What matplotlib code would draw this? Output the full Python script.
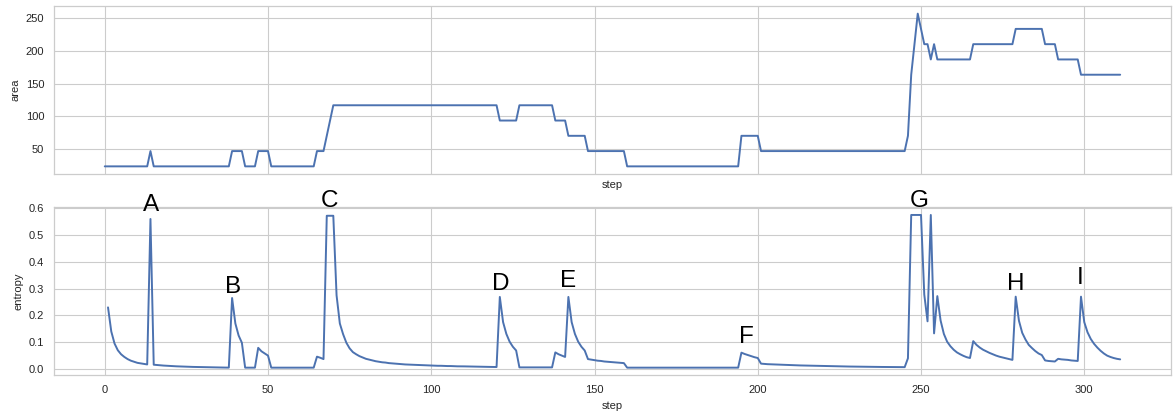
import numpy as np
import matplotlib
matplotlib.use("Agg")
import matplotlib.pyplot as plt
import seaborn as sns

# ---------------- data ----------------
# area: piecewise-constant runs starting at step 0
area_run_values = [23.4, 46.8, 23.4, 46.8, 23.4, 46.8, 23.4, 46.8, 70.2, 93.6,
                   117.0, 93.6, 117.0, 93.6, 70.2, 46.8, 23.4, 70.2, 46.8, 70.2,
                   163.8, 210.6, 257.4, 234.0, 210.6, 187.2, 210.6, 187.2, 210.6,
                   234.0, 210.6, 187.2, 163.8]
area_run_lengths = [14, 1, 24, 4, 4, 4, 14, 3, 1, 1,
                    51, 6, 11, 4, 6, 12, 35, 6, 45, 1,
                    1, 1, 1, 1, 2, 1, 1, 11, 13,
                    9, 4, 7, 13]

# entropy: consecutive segments, each starting at the given step
entropy_seg_starts = [1, 14, 15, 39, 43, 47, 51, 65, 68, 71, 121, 127, 138, 142,
                      148, 160, 195, 201, 246, 247, 251, 256, 266, 279, 288, 292, 299]
entropy_segments = [
    [0.23, 0.14, 0.095, 0.07, 0.055, 0.045, 0.037, 0.031, 0.027, 0.023, 0.021, 0.019, 0.017],
    [0.56],
    [0.016, 0.0148, 0.0138, 0.0128, 0.012, 0.0113, 0.0106, 0.01, 0.0095, 0.009, 0.0086, 0.0082,
     0.0078, 0.0075, 0.0072, 0.0069, 0.0066, 0.0063, 0.0061, 0.0059, 0.0057, 0.0055, 0.0053, 0.0051],
    [0.265, 0.17, 0.125, 0.098],
    [0.005, 0.005, 0.005, 0.005],
    [0.079, 0.066, 0.058, 0.05],
    [0.005, 0.005, 0.005, 0.005, 0.005, 0.005, 0.005, 0.005, 0.005, 0.005, 0.005, 0.005, 0.005, 0.005],
    [0.046, 0.042, 0.037],
    [0.572, 0.572, 0.572],
    [0.275, 0.17, 0.13, 0.098, 0.077, 0.063, 0.055, 0.048, 0.043, 0.038,
     0.035, 0.032, 0.029, 0.027, 0.025, 0.024, 0.022, 0.021, 0.020, 0.019,
     0.018, 0.017, 0.0165, 0.016, 0.0155, 0.015, 0.0145, 0.014, 0.0135, 0.013,
     0.0125, 0.012, 0.012, 0.0115, 0.011, 0.011, 0.0105, 0.010, 0.010, 0.0098,
     0.0095, 0.0092, 0.009, 0.0088, 0.0085, 0.0083, 0.008, 0.0078, 0.0076, 0.0074],
    [0.269, 0.175, 0.131, 0.102, 0.083, 0.069],
    [0.006, 0.006, 0.006, 0.006, 0.006, 0.006, 0.006, 0.006, 0.006, 0.006, 0.006],
    [0.062, 0.055, 0.05, 0.045],
    [0.269, 0.175, 0.131, 0.102, 0.083, 0.069],
    [0.037, 0.035, 0.033, 0.031, 0.030, 0.028, 0.027, 0.026, 0.025, 0.024, 0.023, 0.022],
    [0.005] * 35,
    [0.061, 0.056, 0.052, 0.048, 0.044, 0.041],
    [0.020, 0.019, 0.018, 0.0175, 0.017, 0.0165, 0.016, 0.0155, 0.015, 0.0145,
     0.014, 0.0137, 0.0133, 0.013, 0.0127, 0.0123, 0.012, 0.0117, 0.0114, 0.0111,
     0.0108, 0.0105, 0.0102, 0.010, 0.0098, 0.0096, 0.0094, 0.0092, 0.009, 0.0088,
     0.0086, 0.0084, 0.0082, 0.008, 0.0079, 0.0078, 0.0077, 0.0076, 0.0075, 0.0074,
     0.0073, 0.0072, 0.0071, 0.007, 0.0069],
    [0.04],
    [0.575, 0.575, 0.575, 0.575],
    [0.278, 0.178, 0.575, 0.133, 0.272],
    [0.181, 0.131, 0.102, 0.085, 0.072, 0.062, 0.055, 0.049, 0.044, 0.041],
    [0.104, 0.09, 0.08, 0.072, 0.066, 0.06, 0.055, 0.05, 0.046, 0.043, 0.04, 0.037, 0.034],
    [0.27, 0.18, 0.135, 0.11, 0.09, 0.078, 0.067, 0.058, 0.052],
    [0.032, 0.030, 0.029, 0.028],
    [0.038, 0.036, 0.035, 0.034, 0.032, 0.031, 0.030],
    [0.27, 0.175, 0.137, 0.112, 0.094, 0.08, 0.068, 0.058, 0.05, 0.045, 0.041, 0.038, 0.036],
]

label_texts = ["A", "B", "C", "D", "E", "F", "G", "H", "I"]
label_steps = [14.3, 39.3, 68.7, 121.3, 142.0, 196.5, 249.5, 278.9, 298.6]
label_y = [0.59, 0.283, 0.605, 0.294, 0.306, 0.096, 0.605, 0.296, 0.319]

# ---------------- build series ----------------
area = np.repeat(area_run_values, area_run_lengths)
area_steps = np.arange(len(area))

ent_steps = np.concatenate([np.arange(s, s + len(v)) for s, v in zip(entropy_seg_starts, entropy_segments)])
entropy = np.concatenate([np.asarray(v, dtype=float) for v in entropy_segments])

# ---------------- style ----------------
sns.set_style("whitegrid")
plt.rcParams["font.family"] = ["Liberation Sans", "DejaVu Sans"]
plt.rcParams["xtick.major.size"] = 0
plt.rcParams["ytick.major.size"] = 0
plt.rcParams["xtick.major.pad"] = 7
plt.rcParams["ytick.major.pad"] = 7
plt.rcParams["axes.edgecolor"] = "#cccccc"
plt.rcParams["grid.color"] = "#cccccc"
plt.rcParams["grid.linewidth"] = 0.8
plt.rcParams["axes.linewidth"] = 0.9

line_color = "#4C72B0"
text_color = "#262626"

fig = plt.figure(figsize=(11.76, 4.13), dpi=100)
ax1 = fig.add_axes([0.0459, 0.5787, 0.9498, 0.4068])
ax2 = fig.add_axes([0.0459, 0.0913, 0.9498, 0.4067], sharex=ax1)

ax1.plot(area_steps, area, color=line_color, lw=1.4)
ax2.plot(ent_steps, entropy, color=line_color, lw=1.4)

ax1.set_yticks([50, 100, 150, 200, 250])
ax2.set_yticks([0.0, 0.1, 0.2, 0.3, 0.4, 0.5, 0.6])
ax2.set_xticks([0, 50, 100, 150, 200, 250, 300])
ax1.tick_params(labelbottom=False)

for ax in (ax1, ax2):
    ax.tick_params(labelsize=8, colors=text_color)
    ax.set_xlabel("step", fontsize=8, color=text_color)

ax1.set_ylabel("area", fontsize=8, color=text_color)
ax2.set_ylabel("entropy", fontsize=8, color=text_color)

for t, xs, ys in zip(label_texts, label_steps, label_y):
    ax2.text(xs, ys, t, fontsize=17.5, ha="center", va="baseline", color="black", clip_on=False)

fig.savefig("out.png", dpi=100)
